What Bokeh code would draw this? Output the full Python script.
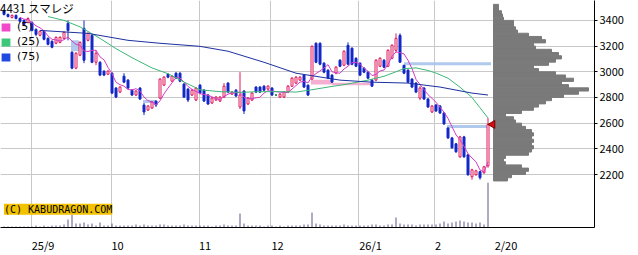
import pandas as pd
from math import pi
from bokeh.plotting import figure
from bokeh.models import Range1d, FixedTicker, ColumnDataSource, Label, Legend, LegendItem
from bokeh.embed import file_html
from bokeh.resources import INLINE

# ---------------- data ----------------
day = list(range(-7, 115))  # trading-day index, 0 = 2025-09-01, 114 = 2026-02-20

open_ = [3477, 3446, 3423, 3439, 3415, 3400, 3384,
         3384, 3330, 3284, 3315, 3260, 3237, 3222, 3229, 3260, 3377,
         3152, 3028, 3129, 3338, 3245, 3284, 3074, 3074, 3005, 2981,
         2989, 2873, 2842, 2966, 2935, 2857, 2819, 2873, 2741, 2702,
         2718, 2772, 2795, 2896, 2981, 2927, 2989, 2989, 2904, 2865,
         2819, 2780, 2896, 2857, 2819, 2757, 2780, 2772, 2803, 2912,
         2826, 2857, 2726, 2850, 2749, 2780, 2881, 2881, 2888, 2865,
         2873, 2819, 2803, 2803, 2842, 2888, 2912, 2935, 2974, 2896,
         2943, 3222, 3222, 3067, 3012, 2974, 2989, 3090, 3051, 3206,
         3183, 3105, 3067, 3028, 2997, 2935, 2935, 3043, 3090, 3043,
         3105, 3167, 3284, 3051, 3012, 2943, 2912, 2795, 2873, 2788,
         2687, 2741, 2733, 2679, 2563, 2485, 2439, 2338, 2493, 2353,
         2183, 2198, 2222, 2214, 2268]
high = [3485, 3454, 3446, 3446, 3423, 3408, 3423,
        3392, 3338, 3322, 3322, 3268, 3245, 3276, 3276, 3315, 3400,
        3160, 3152, 3237, 3400, 3307, 3291, 3167, 3082, 3012, 3012,
        2997, 2881, 2888, 2989, 2943, 2865, 2857, 2881, 2757, 2741,
        2772, 2776, 2950, 2966, 2989, 2974, 2997, 2997, 2912, 2873,
        2865, 2881, 2904, 2865, 2826, 2803, 2811, 2811, 2912, 2919,
        2850, 2865, 2997, 2857, 2803, 2842, 2888, 2888, 2896, 2896,
        2881, 2826, 2834, 2850, 2896, 2958, 2966, 2966, 2981, 2900,
        3206, 3229, 3229, 3074, 3020, 2981, 3043, 3098, 3167, 3229,
        3191, 3113, 3074, 3036, 3005, 2943, 3098, 3113, 3098, 3175,
        3214, 3299, 3299, 3051, 3020, 2950, 2919, 2888, 2881, 2795,
        2741, 2749, 2741, 2687, 2563, 2493, 2446, 2501, 2501, 2361,
        2245, 2237, 2229, 2268, 2640]
low = [3439, 3423, 3415, 3408, 3384, 3361, 3377,
       3315, 3276, 3276, 3245, 3206, 3183, 3214, 3222, 3253, 3245,
       3020, 3020, 3121, 3067, 3237, 3067, 3051, 2966, 2966, 2974,
       2826, 2795, 2834, 2912, 2865, 2811, 2811, 2780, 2663, 2695,
       2710, 2726, 2788, 2888, 2950, 2919, 2943, 2919, 2795, 2764,
       2811, 2772, 2826, 2764, 2741, 2749, 2772, 2764, 2795, 2834,
       2819, 2803, 2710, 2671, 2741, 2772, 2834, 2834, 2850, 2857,
       2811, 2811, 2795, 2795, 2834, 2881, 2904, 2927, 2873, 2811,
       2938, 3067, 3051, 2989, 2943, 2914, 2981, 3036, 3043, 3051,
       3051, 3036, 2966, 2989, 2943, 2881, 2927, 3036, 3028, 3036,
       3098, 3152, 3074, 2981, 2912, 2873, 2834, 2780, 2780, 2718,
       2679, 2687, 2671, 2586, 2477, 2400, 2369, 2330, 2330, 2191,
       2160, 2191, 2160, 2206, 2253]
close = [3446, 3430, 3439, 3415, 3392, 3369, 3415,
         3322, 3291, 3315, 3253, 3214, 3191, 3268, 3268, 3307, 3322,
         3028, 3144, 3229, 3090, 3299, 3074, 3144, 2974, 2974, 3005,
         2834, 2803, 2881, 2919, 2873, 2819, 2850, 2788, 2687, 2733,
         2764, 2741, 2943, 2958, 2958, 2966, 2950, 2927, 2803, 2780,
         2857, 2873, 2834, 2772, 2749, 2795, 2803, 2803, 2888, 2842,
         2842, 2811, 2819, 2695, 2795, 2834, 2842, 2842, 2857, 2888,
         2819, 2819, 2826, 2842, 2888, 2950, 2958, 2958, 2881, 2819,
         3198, 3074, 3059, 2997, 2950, 2919, 3036, 3043, 3160, 3059,
         3059, 3043, 2974, 2997, 2950, 2888, 3090, 3105, 3036, 3167,
         3206, 3260, 3074, 2989, 2919, 2881, 2842, 2873, 2788, 2726,
         2733, 2695, 2679, 2594, 2485, 2408, 2377, 2493, 2338, 2198,
         2237, 2229, 2175, 2260, 2590]
volume = [1, 1, 1, 1, 1, 1, 1,
          1, 2, 1, 2, 1, 2, 2, 2, 3, 8,
          13, 4, 4, 5, 3, 4, 2, 5, 2, 2,
          4, 2, 2, 2, 2, 2, 3, 2, 3, 2,
          2, 2, 3, 3, 2, 2, 2, 2, 3, 2,
          2, 2, 2, 2, 2, 1, 2, 2, 3, 2,
          2, 2, 14, 4, 2, 2, 2, 2, 1, 2,
          2, 1, 2, 1, 2, 2, 2, 2, 3, 3,
          15, 4, 3, 2, 2, 2, 2, 2, 3, 2,
          2, 2, 2, 2, 2, 3, 3, 2, 2, 3,
          3, 10, 4, 3, 3, 3, 2, 3, 3, 3,
          3, 3, 4, 6, 4, 5, 6, 7, 6, 5,
          5, 4, 5, 3, 45]

# moving averages (25 and 75 day)
ma25_day = [4, 6, 8, 12, 17, 21, 25, 30, 34, 38, 42, 47, 52, 57, 62, 66, 70, 74,
            79, 84, 88, 91, 93, 96, 99, 101, 104, 107, 110, 112, 114]
ma25_val = [3430, 3415, 3400, 3350, 3260, 3180, 3110, 3030, 2985, 2920, 2860, 2845,
            2840, 2845, 2845, 2842, 2860, 2881, 2905, 2935, 2965, 3000, 3025, 3030,
            3010, 2990, 2950, 2880, 2800, 2720, 2640]
ma75_day = [2, 14, 24, 32, 42, 49, 58, 66, 77, 85, 94, 102, 110, 114]
ma75_val = [3322, 3299, 3245, 3222, 3198, 3160, 3074, 2989, 2935, 2919, 2912, 2881,
            2834, 2819]

# price windows (gaps): start day, end day, upper price, lower price, kind
gap_start = [9.75, 27.75, 69.75, 75.0, 93.0, 103.75]
gap_end = [11.75, 31.0, 75.0, 85.0, 114.75, 114.0]
gap_top = [3245, 2780, 2938, 2914, 3074, 2586]
gap_bottom = [3160, 2757, 2900, 2896, 3051, 2563]
gap_kind = ["down", "down", "up", "up", "down", "down"]

# volume-by-price profile
vp_price = list(range(2150, 3525, 25))
vp_volume = [14, 18, 32, 35, 28, 12, 10, 12, 35, 38, 40, 38, 40, 38, 40, 38, 32, 28,
             22, 20, 12, 28, 40, 45, 52, 58, 70, 85, 95, 75, 68, 80, 72, 62, 45, 40,
             55, 62, 68, 65, 58, 42, 40, 52, 48, 35, 24, 22, 20, 20, 10, 9, 8, 5, 5]

price_ticks = [2200, 2400, 2600, 2800, 3000, 3200, 3400]
month_grid = [-0.25, 19.75, 41.75, 59.5, 81.5, 100.5]
date_label_pos = [2.75, 21.375, 43.25, 61.375, 84.625, 101.5, 118.5]
date_labels = ["25/9", "10", "11", "12", "26/1", "2", "2/20"]
title = "4431 スマレジ"
ma_labels = ["(5)", "(25)", "(75)"]
copyright_text = "(C) KABUDRAGON.COM"

# ---------------- styles ----------------
UP = "#e0185a"
DOWN = "#1428c8"
DOJI = "#1a8a3a"
C5, C25, C75 = "#d23cc8", "#3cb878", "#1c30a0"
FONT = "Noto Sans CJK JP"

ma5 = pd.Series(close).rolling(5).mean().tolist()

col, fill, top, bot = [], [], [], []
for o, c in zip(open_, close):
    if c > o:
        col.append(UP); fill.append("white")
    elif c < o:
        col.append(DOWN); fill.append(DOWN)
    else:
        col.append(DOJI); fill.append(DOJI)
    top.append(max(o, c)); bot.append(min(o, c))

src = ColumnDataSource(dict(day=day, o=open_, h=high, l=low, c=close,
                            top=top, bot=bot, col=col, fill=fill, vol=volume, ma5=ma5))

p = figure(width=638, height=255, output_backend="svg", toolbar_location=None,
           x_range=Range1d(-7.875, 140.625), y_range=Range1d(1787.5, 3555),
           y_axis_location="right", min_border_left=0, min_border_right=44,
           min_border_top=0, min_border_bottom=27)
p.extra_y_ranges = {"vol": Range1d(0, 228)}
p.extra_x_ranges = {"vp": Range1d(-493, 101)}
p.outline_line_color = None
p.background_fill_color = "white"
p.border_fill_color = "white"

# grid
p.xgrid.ticker = FixedTicker(ticks=month_grid)
p.ygrid.ticker = FixedTicker(ticks=price_ticks)
p.xgrid.grid_line_color = "#c8c8c8"
p.ygrid.grid_line_color = "#c8c8c8"

# axes
ya = p.yaxis[0]
ya.ticker = FixedTicker(ticks=price_ticks)
ya.major_tick_in = 0
ya.major_tick_out = 3
ya.minor_tick_line_color = None
ya.axis_line_color = "black"
ya.major_tick_line_color = "black"
ya.major_label_standoff = 2
ya.major_label_text_font = FONT
ya.major_label_text_font_size = "11px"
ya.major_label_text_color = "black"

xa = p.xaxis[0]
xa.ticker = FixedTicker(ticks=date_label_pos)
xa.major_label_overrides = {pos: lab for pos, lab in zip(date_label_pos, date_labels)}
xa.major_tick_line_color = None
xa.minor_tick_line_color = None
xa.axis_line_color = "black"
xa.major_label_standoff = 3
xa.major_label_text_font = FONT
xa.major_label_text_font_size = "11px"
xa.major_label_text_color = "black"

# windows (gaps)
gap_col = ["#a9c3ea" if k == "down" else "#f4a6cc" for k in gap_kind]
p.quad(left=gap_start, right=gap_end, top=gap_top, bottom=gap_bottom,
       fill_color=gap_col, line_color=None, fill_alpha=0.9)

# volume-by-price profile
p.hbar(y=[v + 12.5 for v in vp_price], height=25, left=0, right=vp_volume,
       x_range_name="vp", fill_color="#7a7a7a", line_color="#7a7a7a", line_width=1)

# volume
p.segment(x0="day", y0=0, x1="day", y1="vol", source=src, y_range_name="vol",
          line_color="#5c5888", line_width=1)

# candles
p.segment(x0="day", y0="l", x1="day", y1="h", source=src, line_color="col", line_width=1)
p.vbar(x="day", width=0.5, top="top", bottom="bot", source=src,
       fill_color="fill", line_color="col", line_width=1)

# moving averages
p.line("day", "ma5", source=src, line_color=C5, line_width=1)
p.line(ma25_day, ma25_val, line_color=C25, line_width=1)
p.line(ma75_day, ma75_val, line_color=C75, line_width=1)

# current price marker
p.scatter(x=[-1], y=[close[-1]], x_range_name="vp", marker="triangle", angle=pi / 2,
          size=8, fill_color="#d01010", line_color="#800000")

# legend swatches (off-screen dummy quads, only used for the legend glyphs)
sw = []
for c_ in ["#f048c8", "#3cc878", "#2248e0"]:
    sw.append(p.quad(left=[-300], right=[-299], top=[0], bottom=[-1],
                     fill_color=c_, line_color=None))
legend = Legend(items=[LegendItem(label=l_, renderers=[r_]) for l_, r_ in zip(ma_labels, sw)],
                location="top_left", title=title, title_text_font=FONT,
                title_text_font_size="11.5px", title_text_font_style="normal",
                title_text_color="black", title_standoff=4,
                label_text_font="DejaVu Sans", label_text_font_size="11px",
                label_text_color="black",
                glyph_width=11, glyph_height=10, label_height=9, label_standoff=6,
                spacing=2, padding=2, margin=0, border_line_color=None,
                background_fill_alpha=0)
p.add_layout(legend)

# copyright label
p.add_layout(Label(x=-7.0, y=1930, text=copyright_text, text_font="DejaVu Sans Mono",
                   text_font_size="10px", text_baseline="middle", text_color="black",
                   background_fill_color="#f2c200", padding=0))

open("out.html", "w").write(file_html(p, INLINE))
